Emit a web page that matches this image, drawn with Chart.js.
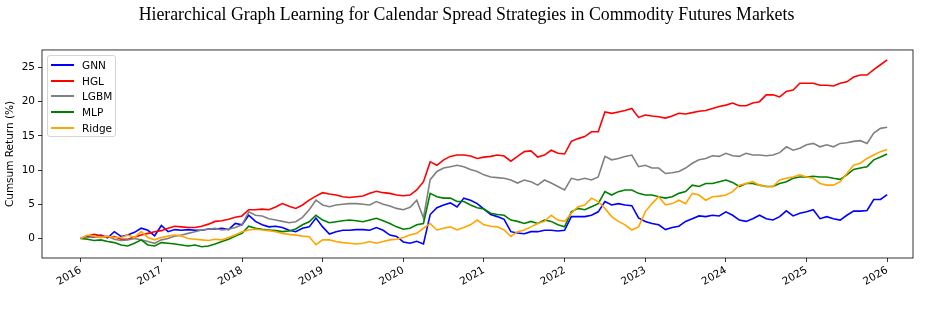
<!DOCTYPE html>
<html>
<head>
<meta charset="utf-8">
<script src="https://cdn.jsdelivr.net/npm/chart.js@4.4.1/dist/chart.umd.min.js"></script>
<style>
  html, body { margin: 0; padding: 0; background: #fff; }
  #wrap { position: relative; width: 933px; height: 309px; }
  #legend {
    position: absolute; left: 47px; top: 55px; width: 69px; height: 82px;
    border: 1px solid #d5d5d5; border-radius: 3px; background: rgba(255,255,255,0.85);
    font-family: "DejaVu Sans", sans-serif; font-size: 10.5px; color: #000; box-sizing: border-box;
  }
  .swatch { position: absolute; left: 3px; width: 23px; height: 2px; }
  .lbl { position: absolute; left: 34px; white-space: nowrap; line-height: 14px; }
</style>
</head>
<body>
<div id="wrap">
  <canvas id="c" width="933" height="309"></canvas>
  <div id="legend"></div>
</div>
<script>
// ---- data (monthly readings, Jan 2016 .. Jan 2026) ----
const months = [
 "2016-01","2016-02","2016-03","2016-04","2016-05","2016-06","2016-07","2016-08","2016-09","2016-10","2016-11","2016-12",
 "2017-01","2017-02","2017-03","2017-04","2017-05","2017-06","2017-07","2017-08","2017-09","2017-10","2017-11","2017-12",
 "2018-01","2018-02","2018-03","2018-04","2018-05","2018-06","2018-07","2018-08","2018-09","2018-10","2018-11","2018-12",
 "2019-01","2019-02","2019-03","2019-04","2019-05","2019-06","2019-07","2019-08","2019-09","2019-10","2019-11","2019-12",
 "2020-01","2020-02","2020-03","2020-04","2020-05","2020-06","2020-07","2020-08","2020-09","2020-10","2020-11","2020-12",
 "2021-01","2021-02","2021-03","2021-04","2021-05","2021-06","2021-07","2021-08","2021-09","2021-10","2021-11","2021-12",
 "2022-01","2022-02","2022-03","2022-04","2022-05","2022-06","2022-07","2022-08","2022-09","2022-10","2022-11","2022-12",
 "2023-01","2023-02","2023-03","2023-04","2023-05","2023-06","2023-07","2023-08","2023-09","2023-10","2023-11","2023-12",
 "2024-01","2024-02","2024-03","2024-04","2024-05","2024-06","2024-07","2024-08","2024-09","2024-10","2024-11","2024-12",
 "2025-01","2025-02","2025-03","2025-04","2025-05","2025-06","2025-07","2025-08","2025-09","2025-10","2025-11","2025-12",
 "2026-01"
];

const seriesNames = ["GNN", "HGL", "LGBM", "MLP", "Ridge"];

const gnn = [
 0, 0.3, 0.2, 0.5, 0.1, 1.0, 0.3, 0.5, 0.9, 1.5, 1.2, 0.4,
 1.9, 1.0, 1.3, 1.2, 1.3, 1.2, 1.2, 1.4, 1.4, 1.5, 1.3, 2.2,
 2.0, 3.4, 2.5, 2.0, 1.7, 1.8, 1.6, 1.2, 1.0, 1.5, 1.7, 3.0,
 1.7, 0.65, 1.0, 1.2, 1.2, 1.3, 1.3, 1.2, 1.6, 1.2, 0.5, 0.3,
 -0.5, -0.7, -0.4, -0.8, 3.5, 4.5, 4.9, 5.2, 4.6, 5.9, 5.6, 5.1,
 4.3, 3.5, 3.2, 2.8, 1.0, 0.8, 0.7, 1.0, 1.0, 1.2, 1.2, 1.1,
 1.2, 3.2, 3.2, 3.2, 3.4, 3.9, 5.4, 4.9, 5.1, 4.9, 4.8, 3.0,
 2.5, 2.2, 2.0, 1.3, 1.6, 1.8, 2.5, 2.9, 3.3, 3.2, 3.4, 3.3,
 3.9, 3.4, 2.7, 2.5, 2.9, 3.4, 2.9, 2.7, 3.2, 4.05, 3.3, 3.7,
 3.9, 4.2, 2.9, 3.2, 2.9, 2.7, 3.4, 4.0, 4.0, 4.1, 5.7, 5.7,
 6.4
];
const hgl = [
 0, 0.35, 0.6, 0.4, 0.2, 0.3, -0.1, -0.1, 0.2, 0.5, 0.75, 1.0,
 1.15, 1.5, 1.8, 1.7, 1.6, 1.6, 1.8, 2.1, 2.5, 2.6, 2.8, 3.1,
 3.3, 4.2, 4.2, 4.3, 4.2, 4.6, 5.1, 4.7, 4.4, 4.9, 5.6, 6.2,
 6.7, 6.5, 6.35, 6.1, 6.0, 6.1, 6.2, 6.6, 6.9, 6.7, 6.6, 6.35,
 6.25, 6.35, 7.1, 8.3, 11.2, 10.7, 11.5, 12.0, 12.2, 12.2, 12.05, 11.7,
 11.9, 12.0, 12.2, 12.05, 11.3, 12.0, 12.7, 12.8, 11.9, 12.2, 12.9, 12.45,
 12.35, 14.2, 14.6, 14.9, 15.6, 15.6, 18.5, 18.3, 18.5, 18.7, 19.0, 17.7,
 18.05, 17.9, 17.8, 17.6, 17.9, 18.3, 18.2, 18.4, 18.6, 18.7, 19.0, 19.3,
 19.5, 19.8, 19.4, 19.4, 19.8, 20.0, 21.0, 21.0, 20.7, 21.5, 21.7, 22.7,
 22.7, 22.7, 22.4, 22.4, 22.3, 22.7, 22.9, 23.6, 23.9, 23.9, 24.7, 25.4,
 26.1
];
const lgbm = [
 0, 0.15, 0.25, 0.15, 0.35, -0.1, -0.3, -0.2, 0, -0.2, -0.45, -0.7,
 -0.2, 0, 0.35, 0.5, 0.75, 1.0, 1.25, 1.35, 1.5, 1.25, 1.35, 1.6,
 2.0, 3.9, 3.4, 3.3, 2.9, 2.7, 2.5, 2.3, 2.45, 3.1, 4.2, 5.6,
 4.9, 4.65, 4.9, 5.0, 5.1, 5.1, 5.0, 4.9, 5.4, 5.0, 4.75, 4.4,
 4.2, 4.55, 5.6, 3.0, 8.6, 9.8, 10.3, 10.5, 10.7, 10.5, 10.1, 9.8,
 9.3, 9.0, 8.9, 8.8, 8.55, 8.1, 8.55, 8.3, 7.8, 8.55, 8.1, 7.6,
 7.1, 8.8, 8.55, 8.8, 8.55, 9.0, 12.0, 11.5, 11.7, 12.0, 12.2, 10.5,
 10.7, 10.3, 10.3, 9.5, 9.6, 9.8, 10.3, 11.0, 11.5, 11.7, 12.1, 12.0,
 12.45, 12.1, 12.0, 12.45, 12.2, 12.2, 12.1, 12.2, 12.55, 13.4, 12.9, 13.2,
 13.7, 13.9, 13.4, 13.7, 13.4, 13.9, 14.0, 14.2, 14.3, 13.9, 15.4, 16.1,
 16.25
];
const mlp = [
 0, -0.1, -0.3, -0.2, -0.45, -0.6, -0.95, -1.1, -0.7, -0.2, -0.95, -1.1,
 -0.6, -0.7, -0.8, -0.95, -1.1, -0.95, -1.2, -1.1, -0.8, -0.45, -0.1, 0.35,
 0.75, 1.8, 1.5, 1.35, 1.25, 1.15, 1.0, 1.1, 1.4, 2.0, 2.45, 3.4,
 2.7, 2.3, 2.45, 2.6, 2.7, 2.6, 2.45, 2.7, 2.95, 2.6, 2.2, 1.7,
 1.35, 1.5, 2.0, 2.2, 6.6, 6.1, 5.9, 5.9, 5.4, 5.4, 4.9, 4.5,
 4.3, 3.7, 3.5, 3.4, 2.7, 2.5, 2.2, 2.5, 2.2, 2.7, 2.5, 2.0,
 1.7, 3.9, 4.4, 4.2, 4.65, 5.1, 6.85, 6.35, 6.85, 7.1, 7.1, 6.6,
 6.35, 6.35, 6.1, 5.9, 6.1, 6.6, 6.85, 7.8, 7.6, 8.05, 8.05, 8.3,
 8.55, 8.2, 7.6, 8.05, 8.05, 7.8, 7.6, 7.6, 8.05, 8.3, 8.8, 9.0,
 9.0, 9.1, 9.0, 9.0, 8.8, 8.65, 9.3, 10.1, 10.3, 10.5, 11.5, 11.9,
 12.35
];
const ridge = [
 0, 0.5, 0.35, 0.15, 0.35, 0.15, 0.15, 0.5, 0.15, 1.0, 0.15, -0.2,
 0.15, 0.35, 0.5, 0.35, 0, -0.1, -0.2, -0.3, -0.1, -0.2, 0.15, 0.5,
 1.0, 1.25, 1.35, 1.25, 1.15, 1.0, 0.75, 0.6, 0.5, 0.35, 0.25, -0.9,
 -0.2, -0.2, -0.45, -0.6, -0.7, -0.8, -0.7, -0.45, -0.7, -0.45, -0.2, -0.1,
 0.15, 0.5, 0.75, 1.5, 2.2, 1.25, 1.5, 1.7, 1.25, 1.6, 2.0, 2.7,
 2.0, 1.8, 1.7, 1.25, 0.3, 1.0, 1.25, 1.7, 2.2, 2.5, 3.4, 2.7,
 2.5, 3.7, 4.65, 4.9, 5.9, 5.4, 4.4, 3.2, 2.5, 2.0, 1.25, 1.7,
 3.9, 5.1, 6.1, 4.9, 5.1, 5.6, 5.1, 6.6, 6.35, 5.6, 6.1, 6.2,
 6.35, 6.85, 7.8, 8.05, 8.3, 7.8, 7.6, 7.6, 8.55, 8.8, 9.0, 9.3,
 9.0, 8.8, 8.05, 7.8, 7.8, 8.3, 9.5, 10.7, 11.0, 11.7, 12.2, 12.7,
 13.0
];
const yearTicks = [2016, 2017, 2018, 2019, 2020, 2021, 2022, 2023, 2024, 2025, 2026];
const yTicks = [0, 5, 10, 15, 20, 25];

const seriesValues = [gnn, hgl, lgbm, mlp, ridge];
const seriesColors = ["#0000ff", "#ff0000", "#808080", "#008000", "#ffa500"];

// month string -> decimal year
const xs = months.map(m => { const [y, mo] = m.split("-").map(Number); return y + (mo - 1) / 12; });

const datasets = seriesNames.map((name, i) => ({
  label: name,
  data: seriesValues[i].map((v, k) => ({ x: xs[k], y: v })),
  borderColor: seriesColors[i],
  backgroundColor: seriesColors[i],
  borderWidth: 1.6,
  pointRadius: 0,
  tension: 0,
  fill: false,
  order: seriesNames.length - i
}));

const framePlugin = {
  id: "frame",
  afterDraw(chart) {
    const { ctx, chartArea: a } = chart;
    ctx.save();
    ctx.strokeStyle = "#000";
    ctx.lineWidth = 0.8;
    ctx.strokeRect(a.left, a.top, a.right - a.left, a.bottom - a.top);
    ctx.restore();
  }
};

const tickFont = { family: "'DejaVu Sans', sans-serif", size: 10.5 };

new Chart(document.getElementById("c"), {
  type: "line",
  data: { datasets },
  plugins: [framePlugin],
  options: {
    responsive: false,
    animation: false,
    events: [],
    layout: { padding: 0 },
    plugins: {
      legend: { display: false },
      tooltip: { enabled: false },
      title: {
        display: true,
        text: "Hierarchical Graph Learning for Calendar Spread Strategies in Commodity Futures Markets",
        font: { family: "'Liberation Serif', 'Times New Roman', serif", size: 17.8, weight: "normal" },
        color: "#000",
        padding: { top: 4.5, bottom: 24.1 }
      }
    },
    scales: {
      x: {
        type: "linear",
        min: 2015.52,
        max: 2026.32,
        afterBuildTicks: s => { s.ticks = yearTicks.map(v => ({ value: v })); },
        afterFit: s => { s.height = 51; },
        ticks: {
          callback: v => String(v),
          maxRotation: 30, minRotation: 30,
          font: tickFont, color: "#000", padding: 2
        },
        grid: { display: true, drawOnChartArea: false, drawTicks: true, tickLength: 4, color: "#000", lineWidth: 0.8 },
        border: { display: false }
      },
      y: {
        type: "linear",
        min: -2.85,
        max: 27.56,
        afterBuildTicks: s => { s.ticks = yTicks.map(v => ({ value: v })); },
        afterFit: s => { s.width = 42; },
        ticks: { callback: v => String(v), font: tickFont, color: "#000", padding: 3 },
        grid: { display: true, drawOnChartArea: false, drawTicks: true, tickLength: 4, color: "#000", lineWidth: 0.8 },
        border: { display: false },
        title: {
          display: true, text: "Cumsum Return (%)",
          font: { family: "'DejaVu Sans', sans-serif", size: 10.5 }, color: "#000",
          padding: { top: 4, bottom: 0 }
        }
      },
      spacer: {
        type: "linear",
        position: "right",
        display: true,
        afterFit: s => { s.width = 20; },
        ticks: { display: false },
        grid: { display: false, drawTicks: false },
        border: { display: false }
      }
    }
  }
});

// HTML legend built from the series arrays
const legend = document.getElementById("legend");
seriesNames.forEach((name, i) => {
  const cy = Math.round(9 + i * 15.7);
  const sw = document.createElement("div");
  sw.className = "swatch";
  sw.style.background = seriesColors[i];
  sw.style.top = (cy - 1) + "px";
  const lb = document.createElement("div");
  lb.className = "lbl";
  lb.textContent = name;
  lb.style.top = (cy - 7) + "px";
  legend.appendChild(sw);
  legend.appendChild(lb);
});
</script>
</body>
</html>
